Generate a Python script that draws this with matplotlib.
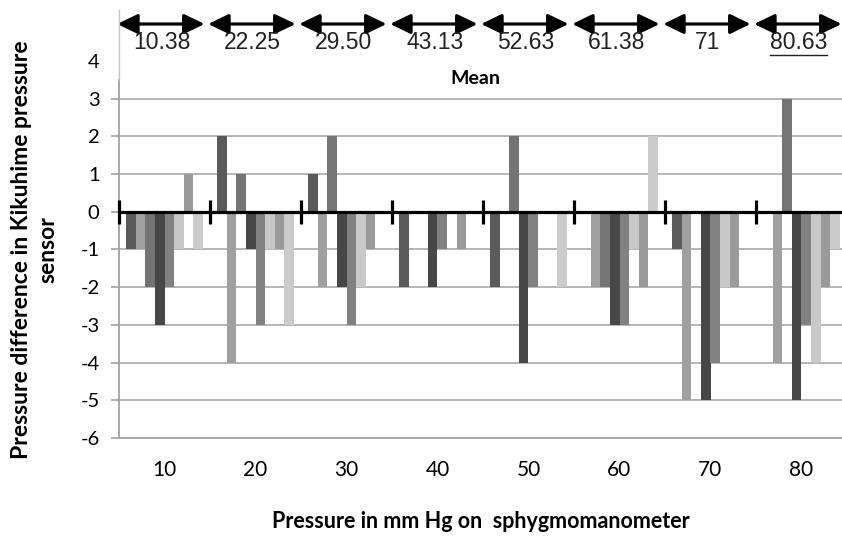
import numpy as np
import matplotlib
matplotlib.use("Agg")
import matplotlib.pyplot as plt
from matplotlib.lines import Line2D

# pressure steps on the sphygmomanometer (x categories)
pressure = ["10", "20", "30", "40", "50", "60", "70", "80"]
# mean readings written above each group
mean_labels = ["10.38", "22.25", "29.50", "43.13", "52.63", "61.38", "71", "80.63"]

# pressure difference per subject, one list per bar position in a group
s1 = [-1, 2, 1, -2, -2, 0, -1, 0]
s2 = [-1, -4, -2, 0, 0, -2, -5, -4]
s3 = [-2, 1, 2, 0, 2, -2, 0, 3]
s4 = [-3, -1, -2, -2, -4, -3, -5, -5]
s5 = [-2, -3, -3, -1, -2, -3, -4, -3]
s6 = [-1, -1, -2, 0, 0, -1, -2, -4]
s7 = [1, -1, -1, -1, 0, -2, -2, -2]
s8 = [-1, -3, 0, 0, -2, 2, 0, -1]
series = [s1, s2, s3, s4, s5, s6, s7, s8]
colors = ["#5a5a5a", "#a0a0a0", "#747474", "#474747",
          "#818181", "#c8c8c8", "#9a9a9a", "#cbcbcb"]

plt.rcParams['font.family'] = ['Lato', 'DejaVu Sans']
plt.rcParams['axes.unicode_minus'] = False

W, H = 842, 536
fig = plt.figure(figsize=(W / 100, H / 100), dpi=100)
ax = fig.add_axes([119 / W, 98 / H, 728 / W, 377 / H])

x = np.arange(len(pressure))
n = len(series)
w = 1 / (n + 1.5)
for j in range(n):
    ax.bar(x + (j - (n - 1) / 2) * w, series[j], w, color=colors[j], zorder=2)

ax.set_xlim(-0.5, len(pressure) - 0.5)
ax.set_ylim(-6, 4)
ax.set_yticks(range(-6, 5))
ax.set_xticks(x)
ax.set_xticklabels(pressure)
ax.tick_params(axis='x', length=0, pad=16, labelsize=15)
ax.tick_params(axis='y', length=6, width=1.2, color='#a0a0a0', labelsize=14.5, pad=8)
ax.yaxis.grid(True, color='#b0b0b0', lw=1.3)
ax.set_axisbelow(True)
ax.get_ygridlines()[-1].set_visible(False)
ax.get_ygridlines()[0].set_visible(False)
ax.yaxis.get_major_ticks()[-1].tick1line.set_visible(False)
for s in ['top', 'right']:
    ax.spines[s].set_visible(False)
for s in ['left', 'bottom']:
    ax.spines[s].set_color('#a0a0a0')
    ax.spines[s].set_linewidth(1.3)
ax.spines['left'].set_bounds(-6, 3.5)

# black zero line with group separators
ax.axhline(0, color='black', lw=2.3, zorder=3)
bounds = np.arange(-0.5, len(pressure) + 0.5, 1)
ax.vlines(bounds, -0.32, 0.32, color='black', lw=2.3, zorder=4, clip_on=False)

# light line continuing the axis up to the top
fig.add_artist(Line2D([119 / W, 119 / W], [1 - 80 / H, 1 - 10 / H], color='#c4c4c4', lw=1))

# mean arrows and labels on top
tr = ax.get_xaxis_transform()
texts = []
for i, lab in enumerate(mean_labels):
    ax.annotate('', xy=(i + 0.44, 414 / 377), xytext=(i - 0.52, 414 / 377), xycoords=tr,
                textcoords=tr,
                arrowprops=dict(arrowstyle='<|-|>,head_length=0.62,head_width=0.3',
                                mutation_scale=20, lw=2.3, color='black',
                                shrinkA=0, shrinkB=0))
    t = ax.text(i - 0.03, 396 / 377, lab, transform=tr, ha='center', va='center',
                fontsize=16.5, family='Liberation Sans', color='#222222')
    texts.append(t)

# the last mean value is underlined in the original
fig.canvas.draw()
bb = texts[-1].get_window_extent().transformed(fig.transFigure.inverted())
fig.add_artist(Line2D([bb.x0, bb.x1], [bb.y0 - 1 / H, bb.y0 - 1 / H], color='#222222', lw=1))

fig.text(475 / W, 1 - 78 / H, 'Mean', ha='center', va='center', fontsize=14,
         fontweight='bold')

fig.text(35 / W, 1 - 250 / H, 'Pressure difference in Kikuhime pressure\nsensor',
         rotation=90, ha='center', va='center', multialignment='center',
         fontsize=16.5, fontweight='bold', linespacing=1.3)
fig.text(481 / W, 1 - 522 / H, 'Pressure in mm Hg on  sphygmomanometer',
         ha='center', va='center', fontsize=15.5, fontweight='bold')

fig.savefig('out.png', dpi=100)
